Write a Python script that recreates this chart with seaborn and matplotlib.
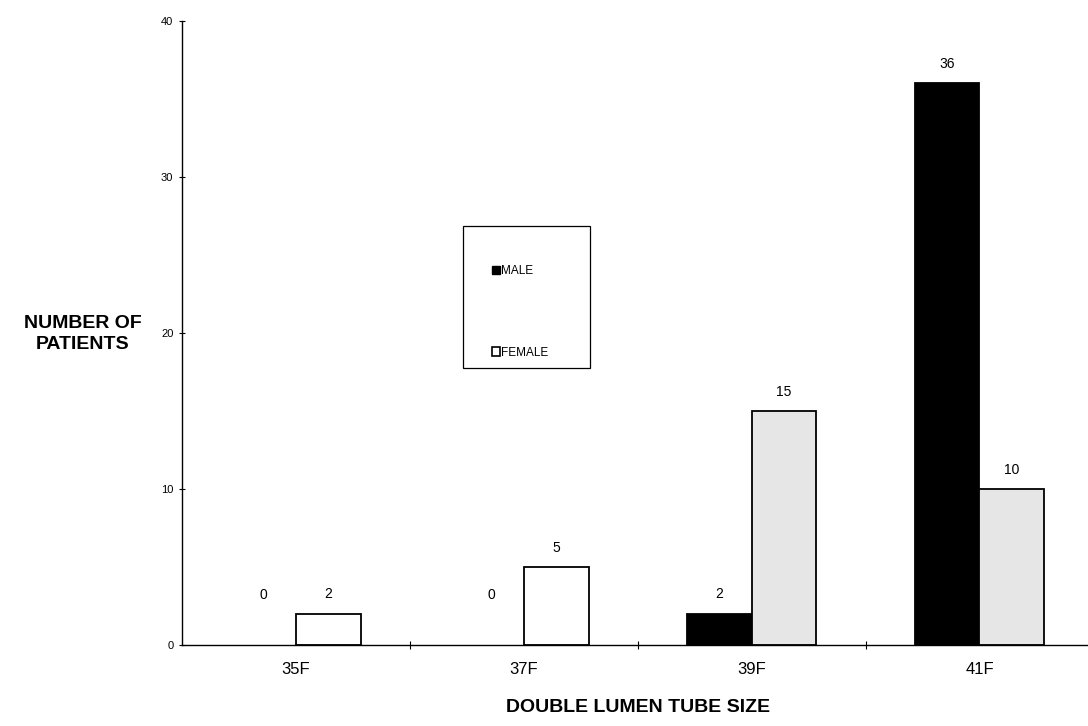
import pandas as pd
import numpy as np

import matplotlib
matplotlib.use('Agg')
import matplotlib.pyplot as plt
from matplotlib.patches import Patch, Rectangle
import seaborn as sns

# datos
sizes = ['35F', '37F', '39F', '41F']
male = [0, 0, 2, 36]
female = [2, 5, 15, 10]

data = pd.DataFrame({
    'size': sizes * 2,
    'sex': ['MALE'] * 4 + ['FEMALE'] * 4,
    'count': male + female,
})

sns.set_style('white')
plt.rcParams['font.family'] = ['Liberation Sans', 'DejaVu Sans']
plt.rcParams['text.color'] = 'black'
plt.rcParams['axes.labelcolor'] = 'black'
plt.rcParams['xtick.color'] = 'black'
plt.rcParams['ytick.color'] = 'black'

fig = plt.figure(figsize=(10.88, 7.26), dpi=100)
ax = fig.add_axes([0.167, 0.1116, 0.838, 0.8595])

sns.barplot(data=data, x='size', y='count', hue='sex', order=sizes,
            hue_order=['MALE', 'FEMALE'],
            palette={'MALE': 'black', 'FEMALE': 'white'},
            edgecolor='black', linewidth=1.3, width=0.57, ax=ax,
            legend=False)

# barras femeninas de 39F y 41F en gris claro
for i, p in enumerate(ax.containers[1].patches):
    if i >= 2:
        p.set_facecolor('#e6e6e6')

# etiquetas de valores
for cont, vals in zip(ax.containers, [male, female]):
    for p, v in zip(cont.patches, vals):
        if v == 0:
            p.set_linewidth(0)
        off = 14 if v > 0 else 36
        ax.annotate(str(v), (p.get_x() + p.get_width() / 2, v),
                    xytext=(0, off), textcoords='offset points',
                    ha='center', va='center', fontsize=10)

ax.set_xlim(-0.5, 3.5)
ax.set_ylim(0, 40)
ax.set_yticks([0, 10, 20, 30, 40])
ax.tick_params(axis='y', left=True, labelsize=8, length=5, direction='inout', width=0.8)
ax.tick_params(axis='x', labelsize=12, length=0, pad=12)
ax.set_xticks([0.5, 1.5, 2.5], minor=True)
ax.tick_params(axis='x', which='minor', bottom=True, length=6, direction='inout', width=0.8)

for s in ['top', 'right']:
    ax.spines[s].set_visible(False)
for s in ['left', 'bottom']:
    ax.spines[s].set_color('black')
    ax.spines[s].set_linewidth(1.0)

ax.set_xlabel('DOUBLE LUMEN TUBE SIZE', fontsize=14, fontweight='bold',
              labelpad=16, color='black')
ax.set_ylabel('')
fig.text(0.076, 0.54, 'NUMBER OF\nPATIENTS', fontsize=14, fontweight='bold',
         ha='center', va='center', linespacing=1.35)

# leyenda en caja
fig.patches.append(Rectangle((463 / 1088, 1 - 368 / 726), 127 / 1088, 142 / 726,
                             transform=fig.transFigure, fill=False,
                             edgecolor='black', linewidth=0.9))
handles = [Patch(facecolor='black', edgecolor='black', label='MALE'),
           Patch(facecolor='white', edgecolor='black', linewidth=1.2, label='FEMALE')]
fig.legend(handles=handles, loc='upper left',
           bbox_to_anchor=(486 / 1088, 1 - 259 / 726), frameon=False,
           fontsize=8.5, handlelength=0.7, handleheight=0.7, handletextpad=0.1,
           labelspacing=5.9, borderpad=0)

fig.savefig('out.png', dpi=100)
